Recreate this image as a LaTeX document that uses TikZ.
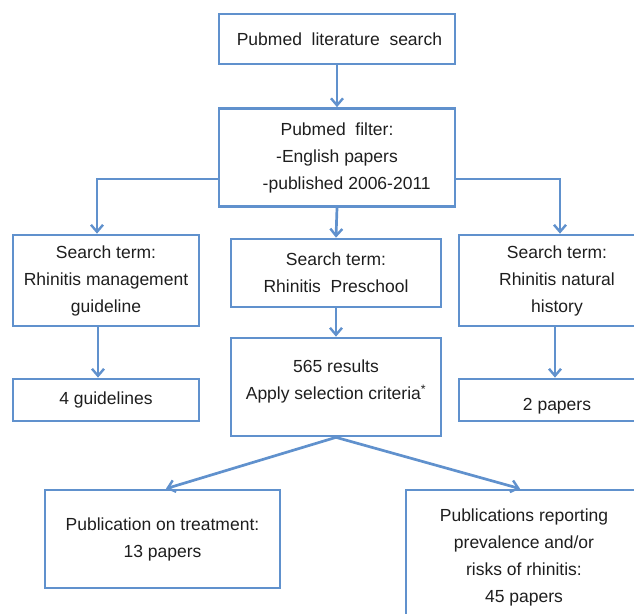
\documentclass[tikz,border=0pt]{standalone}
\usepackage{fontspec}
\setmainfont{Liberation Sans}
\usetikzlibrary{arrows.meta}
\definecolor{boxblue}{RGB}{96,145,205}
\definecolor{txt}{RGB}{30,30,30}
\tikzset{
  box/.style={draw=boxblue, line width=2.7pt, align=center, inner sep=0pt,
    text=txt, font=\fontsize{17.5}{27}\selectfont},
  lbl/.style={align=center, inner sep=0pt, text=txt, font=\fontsize{17.5}{27}\selectfont},
  arr/.style={draw=boxblue, line width=2.7pt, -{Straight Barb[length=7pt,width=12pt,line width=2.4pt]}},
}
\begin{document}
\begin{tikzpicture}[x=1pt,y=-1pt]
\useasboundingbox (0,0) rectangle (634,613);
\clip (0,0) rectangle (634,613);
\node[box, minimum width=236pt, minimum height=50pt] (s1) at (337,39) {\ Pubmed\ \ literature\ \ search};
\node[box, minimum width=236pt, minimum height=98pt] (s2) at (337,157.5) {Pubmed\ \ filter:\\-English papers\\\ \ \ \ -published 2006-2011};
\node[box, minimum width=186pt, minimum height=91pt] (l1) at (106,280.5) {Search term:\\Rhinitis management\\guideline};
\node[box, minimum width=210pt, minimum height=68pt] (c1) at (336,273) {Search term:\\Rhinitis\ \ Preschool};
\node[box, minimum width=196pt, minimum height=91pt] (r1) at (557,280.5) {Search term:\\Rhinitis natural\\history};
\node[box, minimum width=186pt, minimum height=42pt] (l2) at (106,400) {4 guidelines};
\node[box, minimum width=210pt, minimum height=98pt] (c2) at (336,387) {};
\node[lbl] (c2t) at (336,381.5) {565 results\\Apply selection criteria\textsuperscript{*}};
\node[box, minimum width=196pt, minimum height=42pt] (r2) at (557,400) {};
\node[lbl] (r2t) at (557,406) {2 papers};
\node[box, minimum width=235pt, minimum height=98pt] (b1) at (162.5,539) {Publication on treatment:\\13 papers};
\node[box, minimum width=236pt, minimum height=135pt] (b2) at (524,557.5) {Publications reporting\\prevalence and/or\\risks of rhinitis:\\45 papers};
\draw[arr] (s1.south) -- (s2.north);
\draw[arr] ([yshift=-21.5pt]s2.west) -| ([xshift=-9pt]l1.north);
\draw[arr] ([yshift=-21.5pt]s2.east) -| ([xshift=3pt]r1.north);
\draw[arr] (s2.south) -- (c1.north);
\draw[arr] ([xshift=-8pt]l1.south) -- ([xshift=-8pt]l2.north);
\draw[arr] (c1.south) -- (c2.north);
\draw[arr] ([xshift=-2pt]r1.south) -- ([xshift=-2pt]r2.north);
\draw[arr] (c2.south) -- ([xshift=3.5pt]b1.north);
\draw[arr] (c2.south) -- ([xshift=-4pt]b2.north);
\end{tikzpicture}
\end{document}
